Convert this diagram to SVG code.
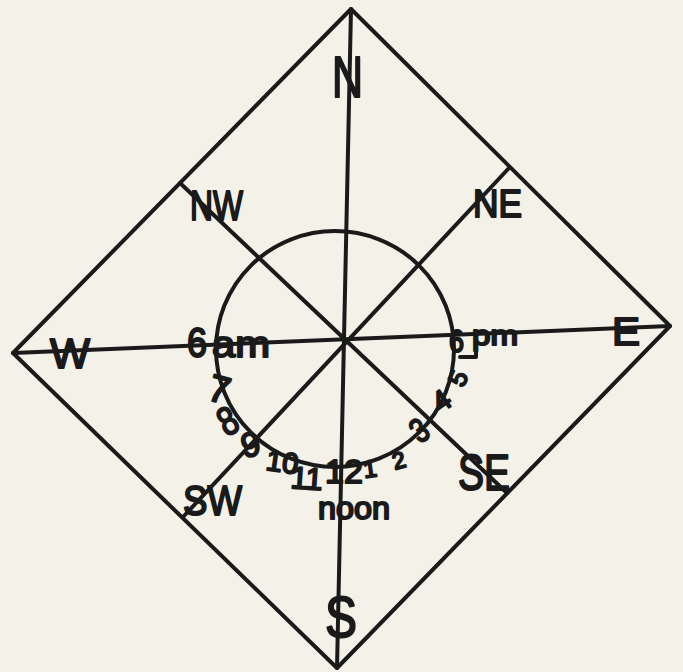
<svg xmlns="http://www.w3.org/2000/svg" width="683" height="672" viewBox="0 0 683 672">
<style>
.ln{fill:none;stroke:#1a1a1a;stroke-width:4;stroke-linecap:round;stroke-linejoin:round}
.t{font-family:"Liberation Sans","DejaVu Sans",sans-serif;fill:#1a1a1a;stroke:#1a1a1a;stroke-width:2;stroke-linejoin:round}
</style>
<rect width="683" height="672" fill="#f4f2e8"/>
<g id="connectors">
<polygon class="ln" points="351,9 670,326 337,668 13,353"/>
<line class="ln" x1="13" y1="353" x2="670" y2="326"/>
<line class="ln" x1="351" y1="9" x2="337" y2="668"/>
<line class="ln" x1="180" y1="183" x2="507" y2="493"/>
<line class="ln" x1="509" y1="168" x2="183" y2="517"/>
<ellipse class="ln" cx="335" cy="349" rx="119" ry="118"/>
<path class="ln" d="M460,357 H476 V337"/>
</g>
<g id="N"><text class="t" x="332" y="97" font-size="58" textLength="31" lengthAdjust="spacingAndGlyphs">N</text></g>
<g id="NW"><text class="t" x="190" y="220" font-size="42" textLength="53" lengthAdjust="spacingAndGlyphs">NW</text></g>
<g id="NE"><text class="t" x="473" y="217" font-size="38" textLength="49" lengthAdjust="spacingAndGlyphs">NE</text></g>
<g id="W"><text class="t" x="50" y="368" font-size="43" textLength="40" lengthAdjust="spacingAndGlyphs">W</text></g>
<g id="E"><text class="t" x="612" y="345" font-size="38" textLength="28" lengthAdjust="spacingAndGlyphs">E</text></g>
<g id="SE"><text class="t" x="458" y="490" font-size="50" textLength="52" lengthAdjust="spacingAndGlyphs">SE</text></g>
<g id="SW"><text class="t" x="183" y="515" font-size="42" textLength="59" lengthAdjust="spacingAndGlyphs">SW</text></g>
<g id="S"><text class="t" x="325" y="637" font-size="58" textLength="32" lengthAdjust="spacingAndGlyphs">S</text></g>
<g id="noon"><text class="t" x="318" y="519" font-size="31" textLength="72" lengthAdjust="spacingAndGlyphs">noon</text></g>
<g id="am6">
<text class="t" x="187" y="357" font-size="42" textLength="20" lengthAdjust="spacingAndGlyphs">6</text>
<text class="t" x="212" y="357" font-size="36" textLength="58" lengthAdjust="spacingAndGlyphs">am</text>
</g>
<g id="pm6">
<text class="t" x="449" y="352" font-size="31" textLength="15" lengthAdjust="spacingAndGlyphs">6</text>
<text class="t" x="472" y="345" font-size="28" textLength="46" lengthAdjust="spacingAndGlyphs">pm</text>
</g>
<g id="hours" class="t" text-anchor="middle">
<text font-size="38" transform="translate(216,402) rotate(15)">7</text>
<text font-size="40" transform="translate(234,433) rotate(-28) scale(0.8,1)">8</text>
<text font-size="34" transform="translate(253,456) rotate(-12)">9</text>
<text font-size="29" transform="translate(281,472) rotate(8)">10</text>
<text font-size="31" transform="translate(306,489) rotate(4)">11</text>
<text font-size="34" transform="translate(344,483)">12</text>
<text font-size="24" transform="translate(371,477) rotate(-8)">1</text>
<text font-size="23" transform="translate(401,468) rotate(-15)">2</text>
<text font-size="34" transform="translate(426,440) rotate(-35) scale(0.8,1)">3</text>
<text font-size="29" transform="translate(447,409) rotate(-35)">4</text>
<text font-size="25" transform="translate(466,382) rotate(-65)">5</text>
</g>
</svg>
